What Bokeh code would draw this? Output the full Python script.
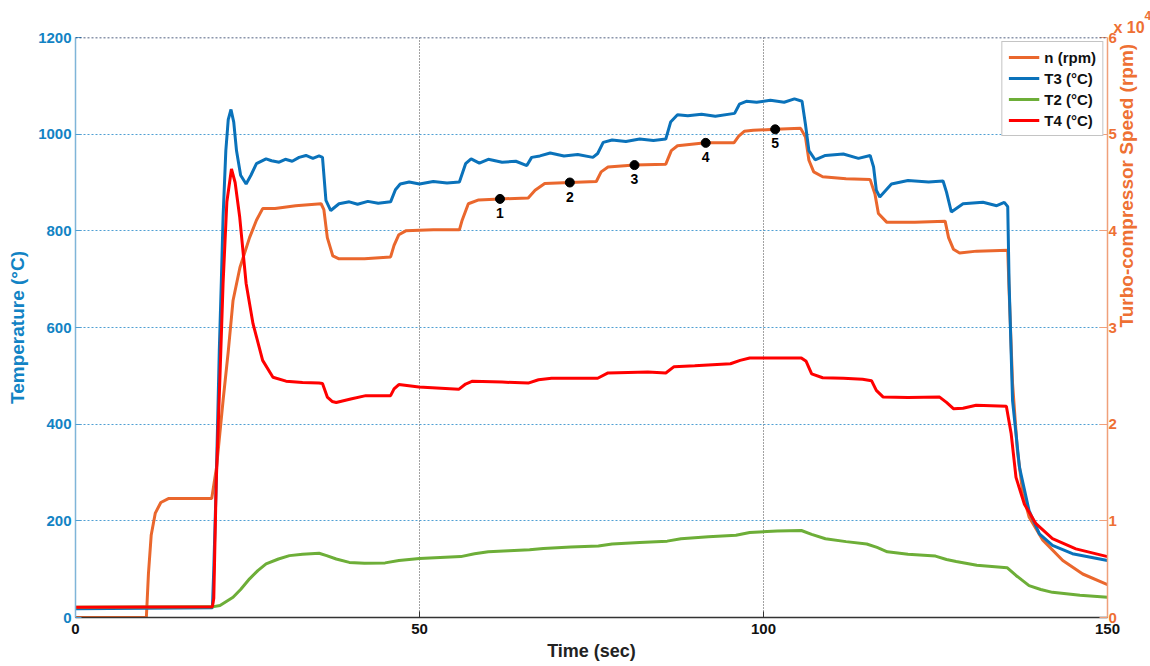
import math
from bokeh.plotting import figure
from bokeh.models import (Range1d, LinearAxis, FixedTicker, Legend, LegendItem,
                          Span, Title, ColumnDataSource)
from bokeh.core.properties import value
from bokeh.embed import file_html
from bokeh.resources import INLINE

# ---------------- data ----------------
# turbo-compressor speed n, in units of 10^4 rpm
t_n = [0, 10.3, 10.6, 11.0, 11.6, 12.4, 13.5, 19.8, 20.5, 21.45, 22.2, 22.9, 23.9, 25.3,
       26.3, 27.2, 29, 32, 35.7, 36.1, 36.6, 37.4, 38.3, 42, 45.8, 46.3, 47.0, 48.0, 52,
       55.8, 56.2, 57.1, 58.6, 61.7, 65.8, 66.8, 68.2, 71.85, 75.7, 76.4, 77.4, 81.25,
       85.8, 86.6, 87.5, 91.6, 95.7, 96.4, 97.2, 98.5, 101.7, 105.4, 106.1, 106.6, 107.3,
       108.6, 112, 115.5, 116.2, 116.7, 117.9, 122, 126.4, 126.9, 127.6, 128.5, 131,
       135.5, 135.7, 136.2, 136.9, 137.7, 138.6, 140.6, 143.5, 146.4, 150]
n_speed = [0, 0, 0.45, 0.85, 1.08, 1.19, 1.23, 1.23, 1.555, 2.245, 2.75, 3.28, 3.62, 3.93,
           4.11, 4.23, 4.23, 4.26, 4.28, 4.22, 3.93, 3.74, 3.71, 3.71, 3.73, 3.85, 3.96, 4.0, 4.01,
           4.01, 4.11, 4.28, 4.32, 4.33, 4.34, 4.42, 4.49, 4.50, 4.51, 4.61, 4.66, 4.68,
           4.69, 4.83, 4.88, 4.91, 4.91, 4.98, 5.03, 5.04, 5.05, 5.06, 4.97, 4.73, 4.61,
           4.56, 4.54, 4.53, 4.38, 4.18, 4.09, 4.09, 4.10, 3.93, 3.81, 3.77, 3.79,
           3.80, 3.38, 2.42, 1.73, 1.28, 1.04, 0.80, 0.59, 0.45, 0.34]

# T3 (deg C)
t_T3 = [0, 19.9, 20.1, 20.45, 20.9, 21.2, 21.45, 21.85, 22.2, 22.6, 23.0, 23.4, 24.0, 24.8,
        25.5, 26.3, 27.7, 28.5, 29.6, 30.5, 31.5, 32.5, 33.5, 34.5, 35.4, 35.9, 36.4, 37.1,
        38.3, 39.8, 41, 42.5, 44, 45.8, 46.5, 47.2, 48.5, 50, 52, 54, 55.8, 56.7, 57.5,
        58.7, 60, 62, 64, 65.6, 66.3, 67.5, 69, 71, 73, 75.2, 75.9, 76.7, 78, 80, 82, 84,
        85.8, 86.5, 87.5, 89, 91, 93, 95.8, 96.5, 97.5, 99, 101, 103, 104.5, 105.6, 106.1,
        106.6, 107.5, 109, 111.6, 113.8, 115.5, 116.0, 116.4, 116.9, 118.6, 121, 124, 126.1,
        126.6, 127.3, 129, 131.9, 133.9, 135.0, 135.5, 135.7, 136.2, 137.2, 138.6, 140.1,
        142, 144.9, 150]
T3 = [18, 20, 100, 277, 552, 697, 828, 966, 1030, 1051, 1025, 966, 915, 897,
      915, 939, 949, 945, 942, 948, 944, 952, 956, 950, 955, 952, 863, 842,
      856, 860, 855, 861, 857, 860, 885, 897, 901, 897, 902, 899, 901, 939, 949,
      940, 948, 942, 944, 935, 952, 955, 961, 955, 958, 952, 960, 983, 988, 985, 990, 987,
      990, 1025, 1040, 1038, 1041, 1037, 1043, 1062, 1068, 1066, 1070, 1066, 1073, 1068, 1020,
      966, 947, 956, 959, 950, 956, 932, 884, 870, 897, 904, 901, 903,
      880, 839, 856, 859, 852, 859, 850, 691, 449, 311, 221, 173,
      149, 132, 118]

# T2 (deg C)
t_T2 = [0, 19.9, 21, 22.9, 24, 25.3, 26.5, 27.7, 29.5, 31.1, 33, 35.4, 36.5, 37.9, 39.8,
        42, 45, 47, 50, 53, 56, 58, 60, 63, 66, 68, 72, 76, 78, 82, 86, 88, 92, 96, 98,
        102, 105.5, 107, 109, 112, 115, 116.5, 118, 121, 125, 126.6, 128, 131, 135.4,
        136.7, 138.6, 140.3, 142, 146, 150]
T2 = [21, 22, 25, 42, 58, 80, 97, 111, 121, 128, 131, 133, 128, 121, 114,
      112, 113, 118, 122, 124, 126, 132, 136, 138, 140, 143, 146, 148, 152, 155, 158, 163,
      167, 170, 176, 179, 180, 172, 163, 157, 152, 145, 136, 131, 127, 120, 116, 108, 103,
      87, 66, 58, 52, 46, 42]

# T4 (deg C)
t_T4 = [0, 19.9, 20.1, 20.45, 21.0, 21.45, 22.0, 22.67, 23.2, 23.87, 24.8, 25.8, 27.2,
        28.7, 30.6, 33, 35.4, 35.9, 36.6, 37.3, 37.9, 40, 42.2, 45.8, 46.3, 47.0, 49.9,
        55.7, 56.7, 57.7, 62, 65.8, 67.3, 69.2, 75.9, 77.4, 83.2, 85.8, 87.0, 90, 95.2,
        96.6, 98, 102, 105.5, 106.2, 107, 108.6, 111.6, 114.4, 115.7, 116.4, 117.4, 121,
        125.6, 126.6, 127.6, 129, 130.9, 135.3, 136, 136.7, 137.9, 139.6, 142, 145.4, 150]
T4 = [21, 22, 40, 277, 500, 691, 860, 928, 900, 828, 691, 608, 532,
      497, 489, 486, 485, 484, 456, 447, 445, 452, 459, 459, 473, 482, 477,
      472, 483, 489, 487, 485, 492, 495, 495, 506, 508, 506, 519, 521, 525,
      532, 537, 537, 537, 530, 504, 496, 495, 493, 490, 470, 456, 455,
      456, 445, 432, 433, 439, 437, 380, 290, 235, 194, 163, 142, 126]

# numbered operating points on the speed curve
pt_t = [61.7, 71.85, 81.25, 91.6, 101.7]
pt_n = [4.33, 4.50, 4.68, 4.91, 5.05]
pt_lbl = ["1", "2", "3", "4", "5"]

x_ticks = [0, 50, 100, 150]
temp_ticks = [0, 200, 400, 600, 800, 1000, 1200]
speed_ticks = [0, 1, 2, 3, 4, 5, 6]

# ---------------- style ----------------
FONT = "Liberation Sans"
C_N = "#EA672D"
C_T3 = "#0A72BA"
C_T2 = "#6DAE38"
C_T4 = "#FF0000"
C_LTXT = "#1283C4"
C_RTXT = "#EE7033"

p = figure(width=1150, height=666, x_range=Range1d(0, 150), y_range=Range1d(0, 1200),
           output_backend="svg", toolbar_location=None,
           min_border_left=75, min_border_right=38, min_border_top=37, min_border_bottom=49)
p.extra_y_ranges = {"rpm": Range1d(0, 6)}
p.outline_line_color = None
p.background_fill_color = "white"

# grids
p.ygrid.ticker = FixedTicker(ticks=[200, 400, 600, 800, 1000])
p.ygrid.grid_line_color = "#4F9FD3"
p.ygrid.grid_line_dash = "2 2"
p.ygrid.grid_line_width = 1
p.xgrid.ticker = FixedTicker(ticks=[50, 100])
p.xgrid.grid_line_color = "#444444"
p.xgrid.grid_line_dash = "1 2"
p.xgrid.grid_line_width = 1
p.add_layout(Span(location=1200, dimension="width", line_color="#1B2F5A",
                  line_dash="2 2", line_width=1.5))

# bottom axis
xa = p.xaxis[0]
xa.ticker = FixedTicker(ticks=x_ticks)
xa.axis_label = "Time (sec)"
xa.axis_label_text_font = FONT
xa.axis_label_text_font_style = "bold"
xa.axis_label_text_font_size = "18px"
xa.axis_label_text_color = "#222222"
xa.axis_label_standoff = 4
xa.major_label_text_font = FONT
xa.major_label_text_font_style = "bold"
xa.major_label_text_font_size = "15px"
xa.major_label_text_color = "#111111"
xa.major_label_standoff = 6
xa.axis_line_color = "#333333"
xa.axis_line_width = 1.5
xa.major_tick_in = 6
xa.major_tick_out = 0
xa.major_tick_line_color = "#333333"
xa.minor_tick_line_color = None

# left axis
ya = p.yaxis[0]
ya.ticker = FixedTicker(ticks=temp_ticks)
ya.axis_label = "Temperature (°C)"
ya.axis_label_text_font = FONT
ya.axis_label_text_font_style = "bold"
ya.axis_label_text_font_size = "19px"
ya.axis_label_text_color = C_LTXT
ya.axis_label_standoff = 7
ya.major_label_text_font = FONT
ya.major_label_text_font_style = "bold"
ya.major_label_text_font_size = "15px"
ya.major_label_text_color = C_LTXT
ya.major_label_standoff = 4
ya.axis_line_color = "#7FB5D8"
ya.axis_line_width = 1.5
ya.major_tick_in = 6
ya.major_tick_out = 0
ya.major_tick_line_color = "#4F9FD3"
ya.minor_tick_line_color = None

# right axis (speed, x 10^4 rpm)
ra = LinearAxis(y_range_name="rpm", ticker=FixedTicker(ticks=speed_ticks))
ra.axis_label = "Turbo-compressor Speed (rpm)"
ra.axis_label_text_font = FONT
ra.axis_label_text_font_style = "bold"
ra.axis_label_text_font_size = "19px"
ra.axis_label_text_color = C_RTXT
ra.axis_label_standoff = 7
if "axis_label_orientation" in ra.properties():
    ra.axis_label_orientation = math.pi / 2
    ra.axis_label_text_align = "center"
    ra.axis_label_text_baseline = "middle"
ra.major_label_text_font = FONT
ra.major_label_text_font_style = "bold"
ra.major_label_text_font_size = "15px"
ra.major_label_text_color = C_RTXT
ra.major_label_standoff = 1
ra.axis_line_color = "#F0A07A"
ra.axis_line_width = 1.5
ra.major_tick_in = 8
ra.major_tick_out = 0
ra.major_tick_line_color = "#F0A07A"
ra.minor_tick_line_color = None
p.add_layout(ra, "right")

# exponent marker of the speed axis ("x 10" with a raised "4")
p.add_layout(Title(text="x 10", align="left", offset=1038, standoff=4,
                   text_font=FONT, text_font_style="bold", text_font_size="16px",
                   text_color=C_RTXT), "above")
p.add_layout(Title(text="4", align="left", offset=1069, standoff=-11,
                   text_font=FONT, text_font_style="bold", text_font_size="12px",
                   text_color=C_RTXT), "above")

# ---------------- series ----------------
r_n = p.line(t_n, n_speed, y_range_name="rpm", line_color=C_N, line_width=3)
r_t3 = p.line(t_T3, T3, line_color=C_T3, line_width=3)
r_t2 = p.line(t_T2, T2, line_color=C_T2, line_width=3)
r_t4 = p.line(t_T4, T4, line_color=C_T4, line_width=3)

pts = ColumnDataSource(dict(t=pt_t, n=pt_n, lbl=pt_lbl))
p.scatter("t", "n", source=pts, y_range_name="rpm", size=9, color="black")
p.text("t", "n", text="lbl", source=pts, y_range_name="rpm", y_offset=9,
       text_align="center", text_baseline="top", text_font=value(FONT),
       text_font_style="bold", text_font_size="14px", text_color="black")

legend = Legend(items=[LegendItem(label="n (rpm)", renderers=[r_n]),
                       LegendItem(label="T3 (°C)", renderers=[r_t3]),
                       LegendItem(label="T2 (°C)", renderers=[r_t2]),
                       LegendItem(label="T4 (°C)", renderers=[r_t4])],
                location="top_right")
legend.label_text_font = FONT
legend.label_text_font_style = "bold"
legend.label_text_font_size = "15px"
legend.label_text_color = "#111111"
legend.border_line_color = "#8A8A8A"
legend.border_line_width = 1.5
legend.background_fill_alpha = 1
legend.glyph_width = 31
legend.glyph_height = 18
legend.label_height = 18
legend.spacing = 3
legend.padding = 6
legend.margin = 4
legend.label_standoff = 5
p.add_layout(legend)

open("out.html", "w").write(file_html(p, INLINE))
